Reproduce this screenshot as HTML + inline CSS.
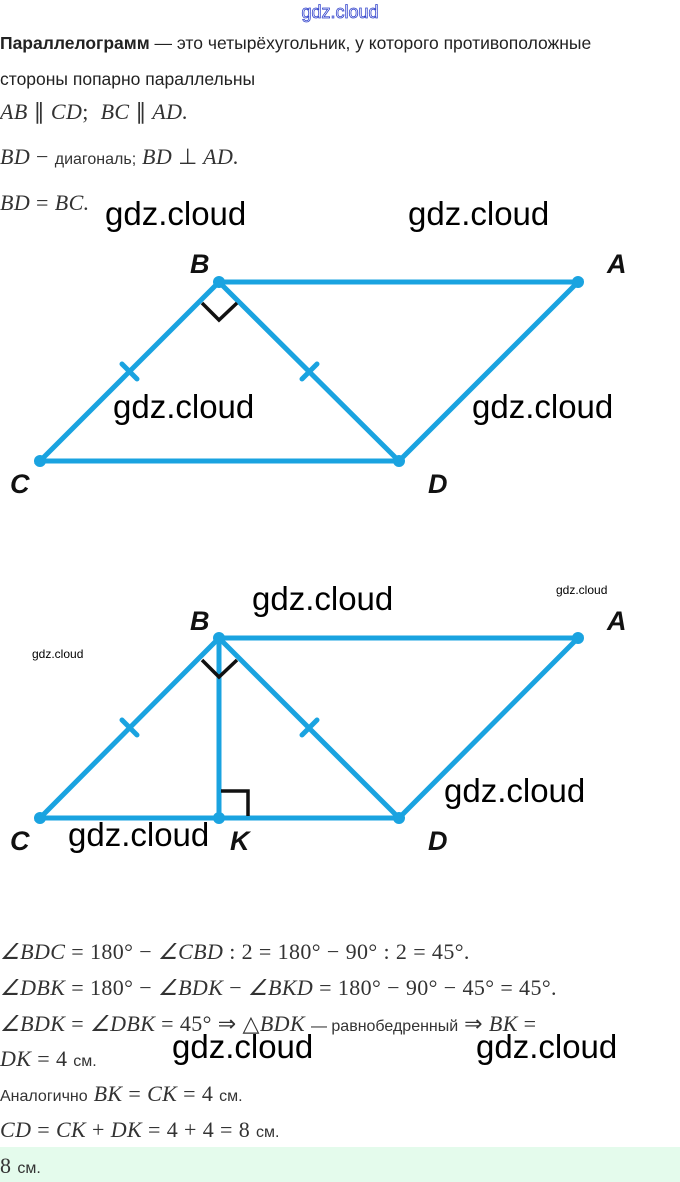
<!DOCTYPE html>
<html><head><meta charset="utf-8"><style>
body{margin:0;width:680px;height:1182px;background:#fff;position:relative;overflow:hidden;font-family:"Liberation Sans",sans-serif;color:#222}
.t{position:absolute;left:0;white-space:nowrap}
.m{font-family:"Liberation Serif",serif;font-style:italic;font-size:22px;letter-spacing:0.4px;color:#333}
.n{font-family:"Liberation Serif",serif;font-style:normal}
.s{font-size:16px;font-family:"Liberation Sans",sans-serif;font-style:normal;letter-spacing:0}
</style></head><body>
<div style="position:absolute;left:0;top:1147px;width:680px;height:35px;background:#e4fbec"></div>
<svg width="680" height="1182" style="position:absolute;left:0;top:0">
<text x="340" y="18" text-anchor="middle" font-family="Liberation Sans" font-size="18" fill="#fff" stroke="#3344cc" stroke-width="0.8">gdz.cloud</text>
<g stroke="#1aa3e0" stroke-width="5" fill="none" stroke-linecap="round">
<path d="M219 282H578L399 461H40Z M219 282L399 461"/>
<path d="M122 364L137 379 M302 379L317 364"/>
<path d="M219 638H578L399 818H40Z M219 638L399 818 M219 638V818"/>
<path d="M122 720L137 735 M302 735L317 720"/>
</g>
<g fill="#1aa3e0"><circle cx="219" cy="282" r="6"/><circle cx="578" cy="282" r="6"/><circle cx="40" cy="461" r="6"/><circle cx="399" cy="461" r="6"/>
<circle cx="219" cy="638" r="6"/><circle cx="578" cy="638" r="6"/><circle cx="40" cy="818" r="6"/><circle cx="399" cy="818" r="6"/><circle cx="219" cy="818" r="6"/></g>
<g stroke="#111" stroke-width="3.5" fill="none">
<path d="M202 303L219 320L237 303"/>
<path d="M202 660L219 677L237 660"/>
<path d="M221 791H248V816"/>
</g>
<g font-family="Liberation Sans" font-style="italic" font-weight="bold" font-size="27" fill="#111">
<text x="190" y="273">B</text><text x="607" y="273">A</text><text x="10" y="493">C</text><text x="428" y="493">D</text>
<text x="190" y="630">B</text><text x="607" y="630">A</text><text x="10" y="850">C</text><text x="230" y="850">K</text><text x="428" y="850">D</text>
</g>
<g font-family="Liberation Sans" font-size="33" fill="#000">
<text x="105" y="225">gdz.cloud</text><text x="408" y="225">gdz.cloud</text>
<text x="113" y="418">gdz.cloud</text><text x="472" y="418">gdz.cloud</text>
<text x="252" y="610">gdz.cloud</text><text x="444" y="802">gdz.cloud</text>
<text x="68" y="846">gdz.cloud</text><text x="172" y="1058">gdz.cloud</text><text x="476" y="1058">gdz.cloud</text>
<text x="556" y="594" font-size="12">gdz.cloud</text><text x="32" y="658" font-size="12">gdz.cloud</text>
</g>
</svg>
<div class="t s" style="top:33px;font-size:17.5px"><b>Параллелограмм</b> — это четырёхугольник, у которого противоположные</div>
<div class="t s" style="top:69px;font-size:17.5px">стороны попарно параллельны</div>
<div class="t m" style="top:99px">AB <span class="n">∥</span> CD<span class="n">;</span> &nbsp;BC <span class="n">∥</span> AD.</div>
<div class="t m" style="top:144px">BD <span class="n">−</span> <span class="s">диагональ;</span> BD <span class="n">⊥</span> AD.</div>
<div class="t m" style="top:190px">BD <span class="n">=</span> BC.</div>
<div class="t m" style="top:939px">∠BDC <span class="n">= 180° − </span>∠CBD <span class="n">: 2 = 180° − 90° : 2 = 45°.</span></div>
<div class="t m" style="top:975px">∠DBK <span class="n">= 180° − </span>∠BDK <span class="n">−</span> ∠BKD <span class="n">= 180° − 90° − 45° = 45°.</span></div>
<div class="t m" style="top:1011px">∠BDK <span class="n">=</span> ∠DBK <span class="n">= 45° ⇒ △</span>BDK <span class="s">— равнобедренный</span> <span class="n">⇒</span> BK <span class="n">=</span></div>
<div class="t m" style="top:1046px">DK <span class="n">= 4</span> <span class="s">см.</span></div>
<div class="t m" style="top:1081px"><span class="s">Аналогично</span> BK <span class="n">=</span> CK <span class="n">= 4</span> <span class="s">см.</span></div>
<div class="t m" style="top:1117px">CD <span class="n">=</span> CK <span class="n">+</span> DK <span class="n">= 4 + 4 = 8</span> <span class="s">см.</span></div>
<div class="t m" style="top:1153px"><span class="n">8</span> <span class="s">см.</span></div>
</body></html>
